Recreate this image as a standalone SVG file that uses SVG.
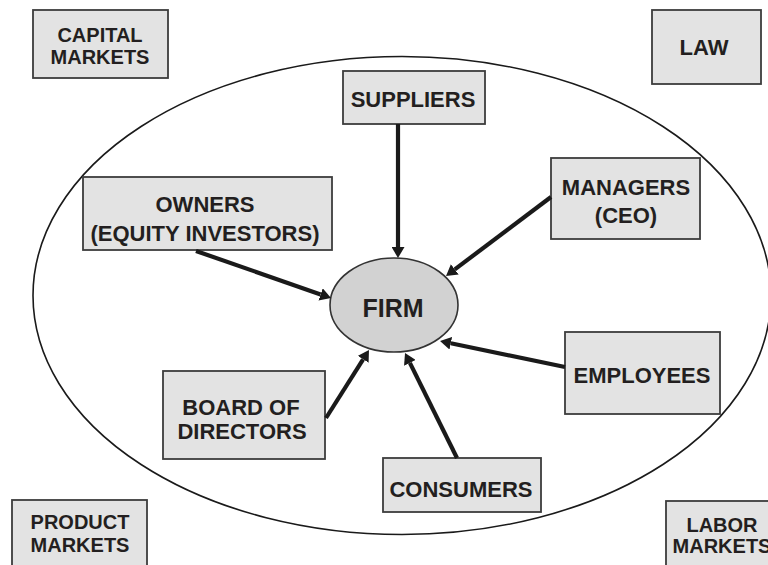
<svg xmlns="http://www.w3.org/2000/svg" width="768" height="565" viewBox="0 0 768 565">
  <style>
    .box { fill: #e3e3e3; stroke: #3c3c3c; stroke-width: 1.8; }
    .lbl { font-family: "Liberation Sans", Arial, sans-serif; font-weight: bold; fill: #231f20; text-anchor: middle; }
    .s20 { font-size: 20px; }
    .s22 { font-size: 22px; }
    .link { stroke: #1a1a1a; stroke-width: 4.2; fill: none; marker-end: url(#head); }
  </style>
  <defs>
    <marker id="head" markerUnits="userSpaceOnUse" markerWidth="12" markerHeight="13" refX="0" refY="6.5" orient="auto">
      <path d="M0,0 L11,6.5 L0,13 Z" fill="#1a1a1a"/>
    </marker>
  </defs>

  <rect width="768" height="565" fill="#ffffff"/>

  <!-- environment boundary -->
  <ellipse id="environment" cx="402" cy="295.5" rx="369" ry="239" fill="none" stroke="#1a1a1a" stroke-width="1.6"/>

  <g id="capital-markets">
    <rect class="box" x="33" y="10" width="135" height="68"/>
    <text class="lbl s20" x="100" y="42">CAPITAL</text>
    <text class="lbl s20" x="100" y="64">MARKETS</text>
  </g>

  <g id="law">
    <rect class="box" x="652" y="10" width="109" height="74"/>
    <text class="lbl s22" x="704" y="55">LAW</text>
  </g>

  <g id="suppliers">
    <rect class="box" x="343" y="71" width="142" height="53"/>
    <text class="lbl s22" x="413" y="107">SUPPLIERS</text>
  </g>

  <g id="owners">
    <rect class="box" x="83" y="177" width="249" height="73"/>
    <text class="lbl s22" x="205" y="212">OWNERS</text>
    <text class="lbl s22" x="205" y="241">(EQUITY INVESTORS)</text>
  </g>

  <g id="managers">
    <rect class="box" x="551" y="158" width="149" height="81"/>
    <text class="lbl s22" x="626" y="195">MANAGERS</text>
    <text class="lbl s22" x="626" y="223">(CEO)</text>
  </g>

  <g id="firm">
    <ellipse cx="394" cy="305" rx="64" ry="47" fill="#d2d2d2" stroke="#333333" stroke-width="1.6"/>
    <text class="lbl" x="393" y="317" font-size="25">FIRM</text>
  </g>

  <g id="employees">
    <rect class="box" x="565" y="332" width="155" height="82"/>
    <text class="lbl s22" x="642" y="383">EMPLOYEES</text>
  </g>

  <g id="board">
    <rect class="box" x="163" y="371" width="162" height="88"/>
    <text class="lbl s22" x="241" y="415">BOARD OF</text>
    <text class="lbl s22" x="242" y="439">DIRECTORS</text>
  </g>

  <g id="consumers">
    <rect class="box" x="383" y="458" width="158" height="54"/>
    <text class="lbl s22" x="461" y="497">CONSUMERS</text>
  </g>

  <g id="product-markets">
    <rect class="box" x="12" y="500" width="135" height="80"/>
    <text class="lbl s20" x="80" y="529">PRODUCT</text>
    <text class="lbl s20" x="80" y="552">MARKETS</text>
  </g>

  <g id="labor-markets">
    <rect class="box" x="666" y="501" width="114" height="80"/>
    <text class="lbl s20" x="722" y="532">LABOR</text>
    <text class="lbl s20" x="722" y="553">MARKETS</text>
  </g>

  <!-- stakeholder influences on the firm -->
  <g id="connectors">
    <line class="link" x1="398" y1="124" x2="398" y2="247"/>
    <line class="link" x1="551" y1="197" x2="454.8" y2="269.4"/>
    <line class="link" x1="196" y1="251" x2="320.6" y2="294.4"/>
    <line class="link" x1="565" y1="367" x2="450.8" y2="343.2"/>
    <line class="link" x1="457" y1="458" x2="409.9" y2="362.9"/>
    <line class="link" x1="326" y1="418" x2="363.1" y2="359.3"/>
  </g>
</svg>
